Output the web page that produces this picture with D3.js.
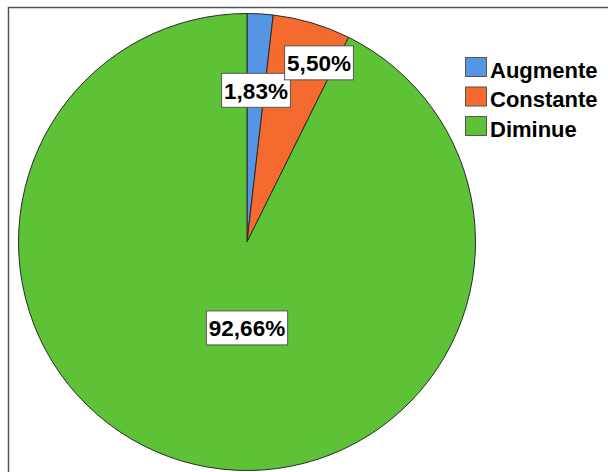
<!DOCTYPE html>
<html><head><meta charset="utf-8">
<script src="https://cdn.jsdelivr.net/npm/d3@7"></script>
<style>
html,body{margin:0;padding:0;background:#fff;}
svg{display:block;}
text{font-family:"Liberation Sans",Arial,sans-serif;font-weight:bold;}
</style></head>
<body>
<svg id="c" width="608" height="472"></svg>
<script>
const categories = ["Augmente", "Constante", "Diminue"];
const values = [1.83, 5.50, 92.66];
const labels = ["1,83%", "5,50%", "92,66%"];
const colors = ["#5596E4", "#F46A2F", "#5EC236"];

// layout (not data)
const cx = 247, cy = 242, R = 228.5;
// label anchor: [angle in degrees clockwise from top, radius fraction]
const labelAnchor = [[3.4, 0.665], [21.9, 0.845], [180, 0.376]];

const svg = d3.select("#c");
svg.append("rect").attr("x", 8.5).attr("y", 7.5).attr("width", 700).attr("height", 600)
  .attr("fill", "#fff").attr("stroke", "#555").attr("stroke-width", 1.5);

const pie = d3.pie().sort(null).value(d => d)(values);
const arc = d3.arc().innerRadius(0).outerRadius(R);
const g = svg.append("g").attr("transform", `translate(${cx},${cy})`);
g.selectAll("path").data(pie).join("path")
  .attr("d", arc).attr("fill", (d, i) => colors[i])
  .attr("stroke", "#2a2a2a").attr("stroke-width", 1).attr("stroke-linejoin", "round");

const fs = 22.5;
labels.forEach((t, i) => {
  const a = labelAnchor[i][0] * Math.PI / 180, r = labelAnchor[i][1] * R;
  const x = Math.sin(a) * r, y = -Math.cos(a) * r;
  const lg = g.append("g").attr("transform", `translate(${x},${y})`);
  const txt = lg.append("text").attr("text-anchor", "middle").attr("y", 8.5)
    .attr("font-size", fs).attr("fill", "#000").text(t);
  const bb = txt.node().getBBox();
  lg.insert("rect", "text").attr("x", bb.x - 2.5).attr("y", -17)
    .attr("width", bb.width + 5).attr("height", 34)
    .attr("fill", "#fff").attr("stroke", "#555").attr("stroke-width", 1);
});

const leg = svg.append("g").attr("transform", "translate(465,57)");
const ly = d3.scaleBand().domain(categories).range([0, 88.5]);
categories.forEach((c, i) => {
  const y = ly(c);
  leg.append("rect").attr("x", 0.5).attr("y", y + 0.5).attr("width", 21).attr("height", 19)
    .attr("fill", colors[i]).attr("stroke", "#555").attr("stroke-width", 1);
  leg.append("text").attr("x", 25).attr("y", y + 20.5)
    .attr("font-size", 22).attr("fill", "#000").text(c);
});
</script>
</body></html>
